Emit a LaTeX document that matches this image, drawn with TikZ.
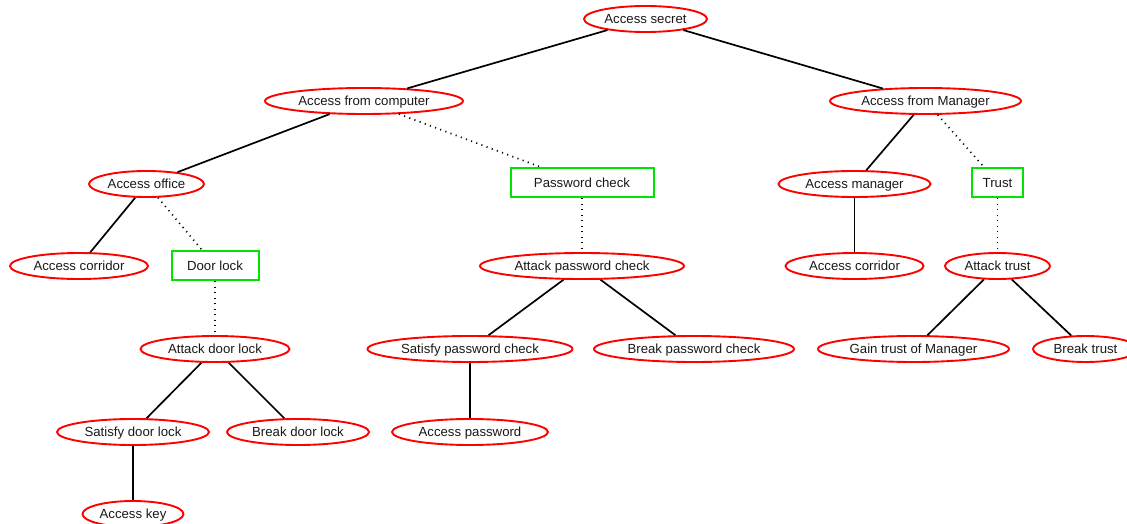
\documentclass[tikz,border=0pt]{standalone}
\usepackage{fontspec}
\setmainfont{Liberation Sans}
\usetikzlibrary{shapes.geometric}
\begin{document}
\begin{tikzpicture}[x=1pt,y=-1pt,
  every node/.style={font=\fontsize{13.2}{15}\selectfont, text=black!90, text height=9.5pt, text depth=0pt},
  goal/.style={ellipse, draw=red, line width=1.9pt, inner sep=0pt, minimum height=26pt, minimum width=#1},
  check/.style={rectangle, draw=green!90!black, line width=2pt, inner sep=0pt, minimum height=29pt, minimum width=#1},
  edge/.style={draw=black, line width=1.7pt},
  dotedge/.style={draw=black, line width=1.7pt, dash pattern=on 1.1pt off 4.4pt}]
\useasboundingbox (0,0) rectangle (1127,524);
\node[goal=123pt] (secret) at (645.5,19) {Access secret};
\node[goal=198pt] (comp) at (364,101) {Access from computer};
\node[goal=191pt] (mgr) at (925.5,101) {Access from Manager};
\node[goal=115pt] (office) at (146.5,184) {Access office};
\node[check=143pt] (pwc) at (582,182.5) {Password check};
\node[goal=152pt] (accmgr) at (854.5,184) {Access manager};
\node[check=51pt] (trust) at (997.5,182.5) {Trust};
\node[goal=138pt] (corrL) at (79,266) {Access corridor};
\node[check=87pt] (door) at (215,265.5) {Door lock};
\node[goal=204pt] (atkpw) at (582,266) {Attack password check};
\node[goal=138pt] (corrR) at (854.5,266) {Access corridor};
\node[goal=105pt] (atktr) at (997.5,266) {Attack trust};
\node[goal=149pt] (atkdl) at (215,349) {Attack door lock};
\node[goal=205pt] (satpw) at (470,349) {Satisfy password check};
\node[goal=200pt] (brkpw) at (694,349) {Break password check};
\node[goal=191pt] (gain) at (913.5,349) {Gain trust of Manager};
\node[goal=105pt] (brktr) at (1085.5,349) {Break trust};
\node[goal=152pt] (satdl) at (133,432) {Satisfy door lock};
\node[goal=142pt] (brkdl) at (298,432) {Break door lock};
\node[goal=156pt] (accpw) at (470,432) {Access password};
\node[goal=101pt] (key) at (133,514) {Access key};
\draw[edge] (secret) -- (comp);
\draw[edge] (secret) -- (mgr);
\draw[edge] (comp) -- (office);
\draw[dotedge] (comp) -- (pwc);
\draw[edge] (mgr) -- (accmgr);
\draw[dotedge] (mgr) -- (trust);
\draw[edge] (office) -- (corrL);
\draw[dotedge] (office) -- (door);
\draw[dotedge] (pwc) -- (atkpw);
\draw[edge] (accmgr) -- (corrR);
\draw[dotedge] (trust) -- (atktr);
\draw[dotedge] (door) -- (atkdl);
\draw[edge] (atkpw) -- (satpw);
\draw[edge] (atkpw) -- (brkpw);
\draw[edge] (atktr) -- (gain);
\draw[edge] (atktr) -- (brktr);
\draw[edge] (atkdl) -- (satdl);
\draw[edge] (atkdl) -- (brkdl);
\draw[edge] (satpw) -- (accpw);
\draw[edge] (satdl) -- (key);
\end{tikzpicture}
\end{document}
